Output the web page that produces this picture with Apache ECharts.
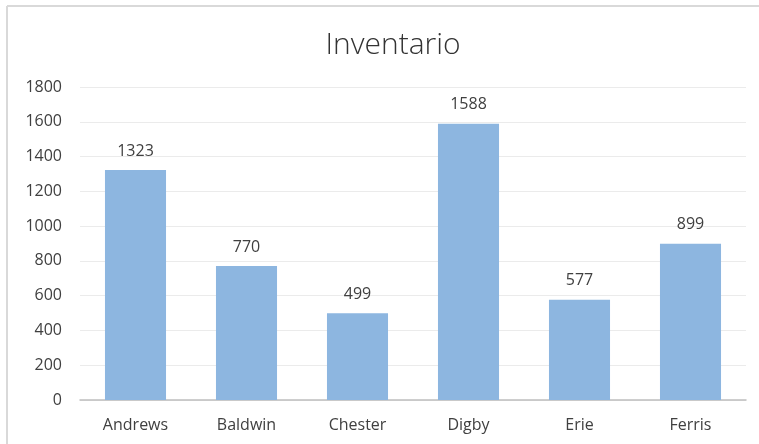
<!DOCTYPE html>
<html>
<head>
<meta charset="utf-8">
<script src="https://cdn.jsdelivr.net/npm/echarts@6/dist/echarts.min.js"></script>
<style>
  html, body { margin: 0; padding: 0; background: #ffffff; }
  #chart { width: 759px; height: 444px; }
</style>
</head>
<body>
<div id="chart"></div>
<script>
// Inventory per company
const categories = ['Andrews', 'Baldwin', 'Chester', 'Digby', 'Erie', 'Ferris'];
const inventory = [1323, 770, 499, 1588, 577, 899];
const yTicks = { min: 0, max: 1800, step: 200 };

const chart = echarts.init(document.getElementById('chart'), null, { renderer: 'canvas' });
const FONT = '"Open Sans", "Noto Sans", sans-serif';

chart.setOption({
  backgroundColor: '#ffffff',
  animation: false,
  title: {
    text: 'Inventario',
    left: 388,
    textAlign: 'center',
    top: 25,
    textStyle: {
      fontFamily: FONT,
      fontSize: 30,
      fontWeight: 300,
      color: '#333333'
    }
  },
  graphic: [
    { type: 'line', shape: { x1: 7, y1: 6, x2: 7, y2: 444 }, style: { stroke: '#d9d9d9', lineWidth: 2 } },
    { type: 'line', shape: { x1: 7, y1: 6, x2: 759, y2: 6 }, style: { stroke: '#d9d9d9', lineWidth: 2 } }
  ],
  grid: { left: 80, right: 13, top: 87, bottom: 44, containLabel: false },
  xAxis: {
    type: 'category',
    data: categories,
    axisLine: { lineStyle: { color: '#bfbfbf', width: 1.5 } },
    axisTick: { show: false },
    axisLabel: { fontFamily: FONT, fontSize: 16, color: '#404040', margin: 17 }
  },
  yAxis: {
    type: 'value',
    min: yTicks.min,
    max: yTicks.max,
    interval: yTicks.step,
    axisLine: { show: false },
    axisTick: { show: false },
    axisLabel: {
      fontFamily: FONT,
      fontSize: 16,
      color: '#404040',
      margin: 18,
      formatter: (v) => String(v)
    },
    splitLine: { lineStyle: { color: '#ebebeb', width: 1 } }
  },
  series: [{
    type: 'bar',
    data: inventory,
    barWidth: '55%',
    itemStyle: { color: '#8db6e0' },
    label: {
      show: true,
      position: 'top',
      distance: 11,
      fontFamily: FONT,
      fontSize: 16,
      color: '#404040'
    }
  }]
});
</script>
</body>
</html>
